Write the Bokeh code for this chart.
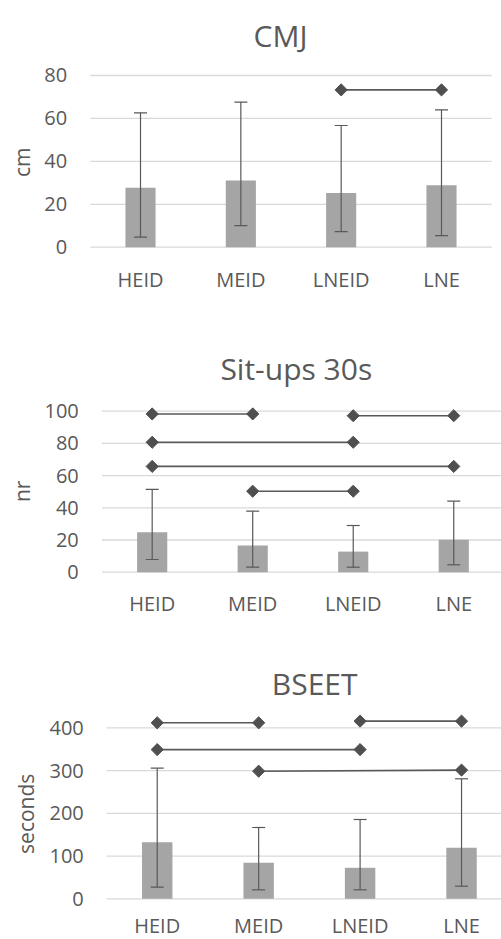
import math
from bokeh.plotting import figure
from bokeh.layouts import column
from bokeh.core.properties import value
from bokeh.models import (ColumnDataSource, Whisker, TeeHead, Range1d, Label, LabelSet)
from bokeh.embed import file_html
from bokeh.resources import INLINE

categories = ["HEID", "MEID", "LNEID", "LNE"]

# CMJ (cm)
cmj_mean = [27.7, 31.1, 25.3, 28.9]
cmj_upper = [62.6, 67.6, 56.7, 64.0]
cmj_lower = [4.7, 10.1, 7.3, 5.4]
cmj_pairs = [("LNEID", "LNE")]
cmj_pair_y = [(73.3, 73.3)]
cmj_ticks = [0, 20, 40, 60, 80]

# Sit-ups 30s (nr)
sit_mean = [24.8, 16.6, 12.8, 20.1]
sit_upper = [51.4, 37.9, 29.0, 44.1]
sit_lower = [7.9, 3.1, 3.1, 4.6]
sit_pairs = [("HEID", "MEID"), ("LNEID", "LNE"), ("HEID", "LNEID"), ("HEID", "LNE"), ("MEID", "LNEID")]
sit_pair_y = [(98.3, 98.3), (97.2, 97.2), (80.7, 80.7), (65.7, 65.7), (50.3, 50.3)]
sit_ticks = [0, 20, 40, 60, 80, 100]

# BSEET (seconds)
bs_mean = [132.4, 84.2, 72.5, 119.3]
bs_upper = [305.6, 166.8, 185.5, 280.7]
bs_lower = [27.2, 21.0, 21.0, 29.5]
bs_pairs = [("HEID", "MEID"), ("LNEID", "LNE"), ("HEID", "LNEID"), ("MEID", "LNE")]
bs_pair_y = [(411.7, 411.7), (415.6, 415.6), (349.0, 349.0), (298.5, 301.0)]
bs_ticks = [0, 100, 200, 300, 400]

FONT = "Open Sans"
TXT = "#595959"
BAR = "#a5a5a5"
DARK = "#4f4f4f"
GRID = "#d9d9d9"


def panel(title, ylabel, mean, upper, lower, pairs, pair_y, ticks, height,
          xr, yr, title_xy, cat_y, tick_x, ylab_xy):
    xs = list(range(len(categories)))
    p = figure(width=501, height=height, output_backend="svg", toolbar_location=None,
               x_range=Range1d(*xr), y_range=Range1d(*yr),
               x_axis_location=None, y_axis_location=None, min_border=0)
    p.outline_line_color = None
    p.background_fill_color = "white"
    p.border_fill_color = "white"
    p.grid.grid_line_color = None

    # horizontal gridlines across the plot area
    p.segment(x0=[-0.5] * len(ticks), x1=[len(categories) - 0.5] * len(ticks),
              y0=ticks, y1=ticks, line_color=GRID, line_width=1.3)

    src = ColumnDataSource(dict(x=xs, mean=mean, upper=upper, lower=lower))
    p.vbar(x="x", top="mean", bottom=0, width=0.3, source=src,
           fill_color=BAR, line_color=None)
    w = Whisker(base="x", upper="upper", lower="lower", source=src, level="overlay",
                line_color=TXT, line_width=1.2,
                upper_head=TeeHead(size=13, line_color=TXT, line_width=1.2),
                lower_head=TeeHead(size=13, line_color=TXT, line_width=1.2))
    p.add_layout(w)

    idx = {c: i for i, c in enumerate(categories)}
    x0 = [idx[a] for a, b in pairs]
    x1 = [idx[b] for a, b in pairs]
    y0 = [ya for ya, yb in pair_y]
    y1 = [yb for ya, yb in pair_y]
    p.segment(x0=x0, y0=y0, x1=x1, y1=y1, line_color=TXT, line_width=1.6)
    p.scatter(x=x0 + x1, y=y0 + y1, marker="square", size=8.6, angle=math.pi / 4,
              fill_color=DARK, line_color=DARK)

    # category labels
    cat_src = ColumnDataSource(dict(x=xs, y=[cat_y] * len(xs), t=categories))
    p.add_layout(LabelSet(x="x", y="y", text="t", source=cat_src, y_units="screen",
                          text_font=value(FONT), text_font_size=value("20px"),
                          text_color=TXT, text_align="center",
                          text_baseline="alphabetic"))
    # y tick labels
    tk_src = ColumnDataSource(dict(x=[tick_x] * len(ticks), y=ticks,
                                   t=[str(t) for t in ticks]))
    p.add_layout(LabelSet(x="x", y="y", text="t", source=tk_src, x_units="screen",
                          text_font=value(FONT), text_font_size=value("20px"),
                          text_color=TXT, text_align="right", text_baseline="middle"))
    # y axis title
    p.add_layout(Label(x=ylab_xy[0], y=ylab_xy[1], x_units="screen", y_units="screen",
                       text=ylabel, angle=math.pi / 2, text_font=FONT,
                       text_font_size="21px", text_color=TXT,
                       text_align="center", text_baseline="middle"))
    # chart title
    p.add_layout(Label(x=title_xy[0], y=title_xy[1], x_units="screen", y_units="screen",
                       text=title, text_font=FONT, text_font_size="30px",
                       text_color=TXT, text_align="center", text_baseline="alphabetic"))
    return p


p1 = panel("CMJ", "cm", cmj_mean, cmj_upper, cmj_lower, cmj_pairs, cmj_pair_y, cmj_ticks,
           height=300, xr=(-1.3954, 3.598), yr=(-24.83, 114.94),
           title_xy=(280, 265), cat_y=13.3, tick_x=66.7, ylab_xy=(21.9, 138.3))
p2 = panel("Sit-ups 30s", "nr", sit_mean, sit_upper, sit_lower, sit_pairs, sit_pair_y,
           sit_ticks, height=320, xr=(-1.509, 3.475), yr=(-30.0, 168.76),
           title_xy=(295.8, 251.7), cat_y=10, tick_x=78.3, ylab_xy=(21.5, 129.2))
p3 = panel("BSEET", "seconds", bs_mean, bs_upper, bs_lower, bs_pairs, bs_pair_y, bs_ticks,
           height=319, xr=(-1.545, 3.394), yr=(-95.2, 651.0),
           title_xy=(314.2, 255.7), cat_y=7, tick_x=83.3, ylab_xy=(25.2, 125.7))

layout = column(p1, p2, p3, spacing=0)
open("out.html", "w").write(file_html(layout, INLINE))
